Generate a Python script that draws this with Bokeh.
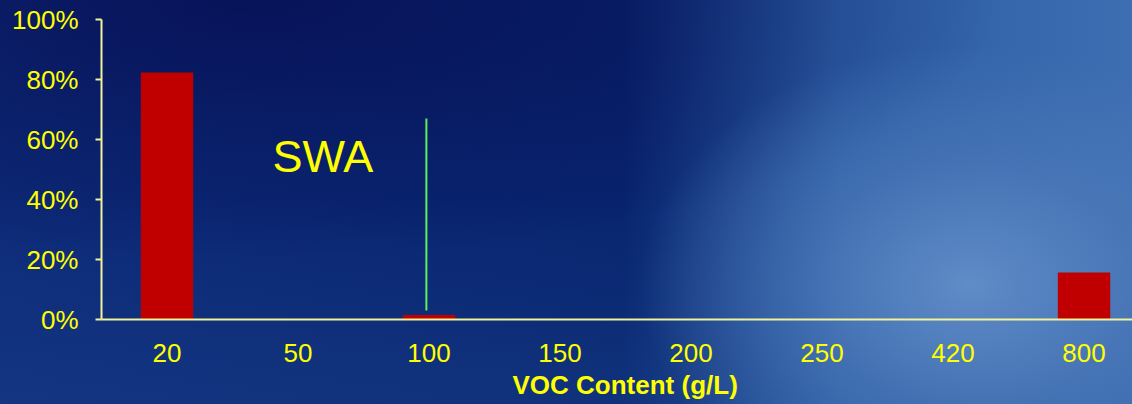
from bokeh.plotting import figure
from bokeh.models import Range1d, FixedTicker, PrintfTickFormatter, Label, ColumnDataSource, Title
from bokeh.embed import file_html
from bokeh.resources import INLINE

# ---- data ----
categories = ["20", "50", "100", "150", "200", "250", "420", "800"]
shares = [82.3, 0.0, 1.5, 0.0, 0.0, 0.0, 0.0, 15.7]   # percent
y_ticks = [0, 20, 40, 60, 80, 100]
swa_x = [1.98]
swa_y0 = [3.0]
swa_y1 = [67.0]
swa_text = "SWA"
x_title = "VOC Content (g/L)"

YELLOW = "#FFFF00"
AXIS = "#F2F29A"
FONT = "Liberation Sans"

idx = list(range(len(categories)))
src = ColumnDataSource(dict(x=idx, top=shares))

p = figure(width=1132, height=404, output_backend="svg", toolbar_location=None,
           x_range=Range1d(-0.5, 7.37), y_range=Range1d(0, 100),
           min_border_left=101, min_border_right=0, min_border_top=19, min_border_bottom=85)
p.background_fill_alpha = 0
p.border_fill_alpha = 0
p.outline_line_color = None
p.xgrid.visible = False
p.ygrid.visible = False

p.vbar(x="x", top="top", width=0.4, source=src, fill_color="#C00000", line_color=None)
p.segment(x0=swa_x, y0=swa_y0, x1=swa_x, y1=swa_y1, line_color="#5CF05C", line_width=2)

p.add_layout(Label(x=0.805, y=54.2, text=swa_text, text_color=YELLOW, text_font=FONT,
                   text_font_size="45px", text_baseline="alphabetic", text_align="left"))

p.add_layout(Title(text=x_title, align="left", offset=411, text_color=YELLOW,
                   text_font=FONT, text_font_size="26px", text_font_style="bold",
                   standoff=7), "below")

xa = p.xaxis[0]
xa.ticker = FixedTicker(ticks=idx)
xa.major_label_overrides = {i: c for i, c in enumerate(categories)}
xa.axis_line_color = AXIS
xa.axis_line_width = 2
xa.major_tick_line_color = None
xa.minor_tick_line_color = None
xa.major_label_text_color = YELLOW
xa.major_label_text_font = FONT
xa.major_label_text_font_size = "26px"
xa.major_label_standoff = 18

ya = p.yaxis[0]
ya.ticker = FixedTicker(ticks=y_ticks)
ya.formatter = PrintfTickFormatter(format="%d%%")
ya.axis_line_color = AXIS
ya.axis_line_width = 2
ya.major_tick_line_color = AXIS
ya.major_tick_line_width = 2
ya.major_tick_out = 6
ya.major_tick_in = 0
ya.minor_tick_line_color = None
ya.major_label_text_color = YELLOW
ya.major_label_text_font = FONT
ya.major_label_text_font_size = "26px"
ya.major_label_standoff = 17

html = file_html(p, INLINE)
style = """<style>
body{overflow:hidden;background-color:#0a2474;
background-image:
radial-gradient(ellipse 330px 240px at 970px 285px, rgba(98,142,200,0.95) 0%, rgba(80,125,188,0.6) 50%, rgba(60,100,170,0) 100%),
radial-gradient(ellipse 750px 260px at 250px 0px, rgba(5,5,70,0.6) 0%, rgba(5,5,70,0) 100%),
linear-gradient(to bottom, rgba(40,90,160,0) 50%, rgba(40,90,160,0.25) 100%),
linear-gradient(to right, #0d2a78 0%, #08246f 55%, #2a5aa2 74%, #3e6eb2 100%);
background-attachment:fixed;}
</style>"""
html = html.replace("<head>", "<head>" + style, 1)
open("out.html", "w").write(html)
